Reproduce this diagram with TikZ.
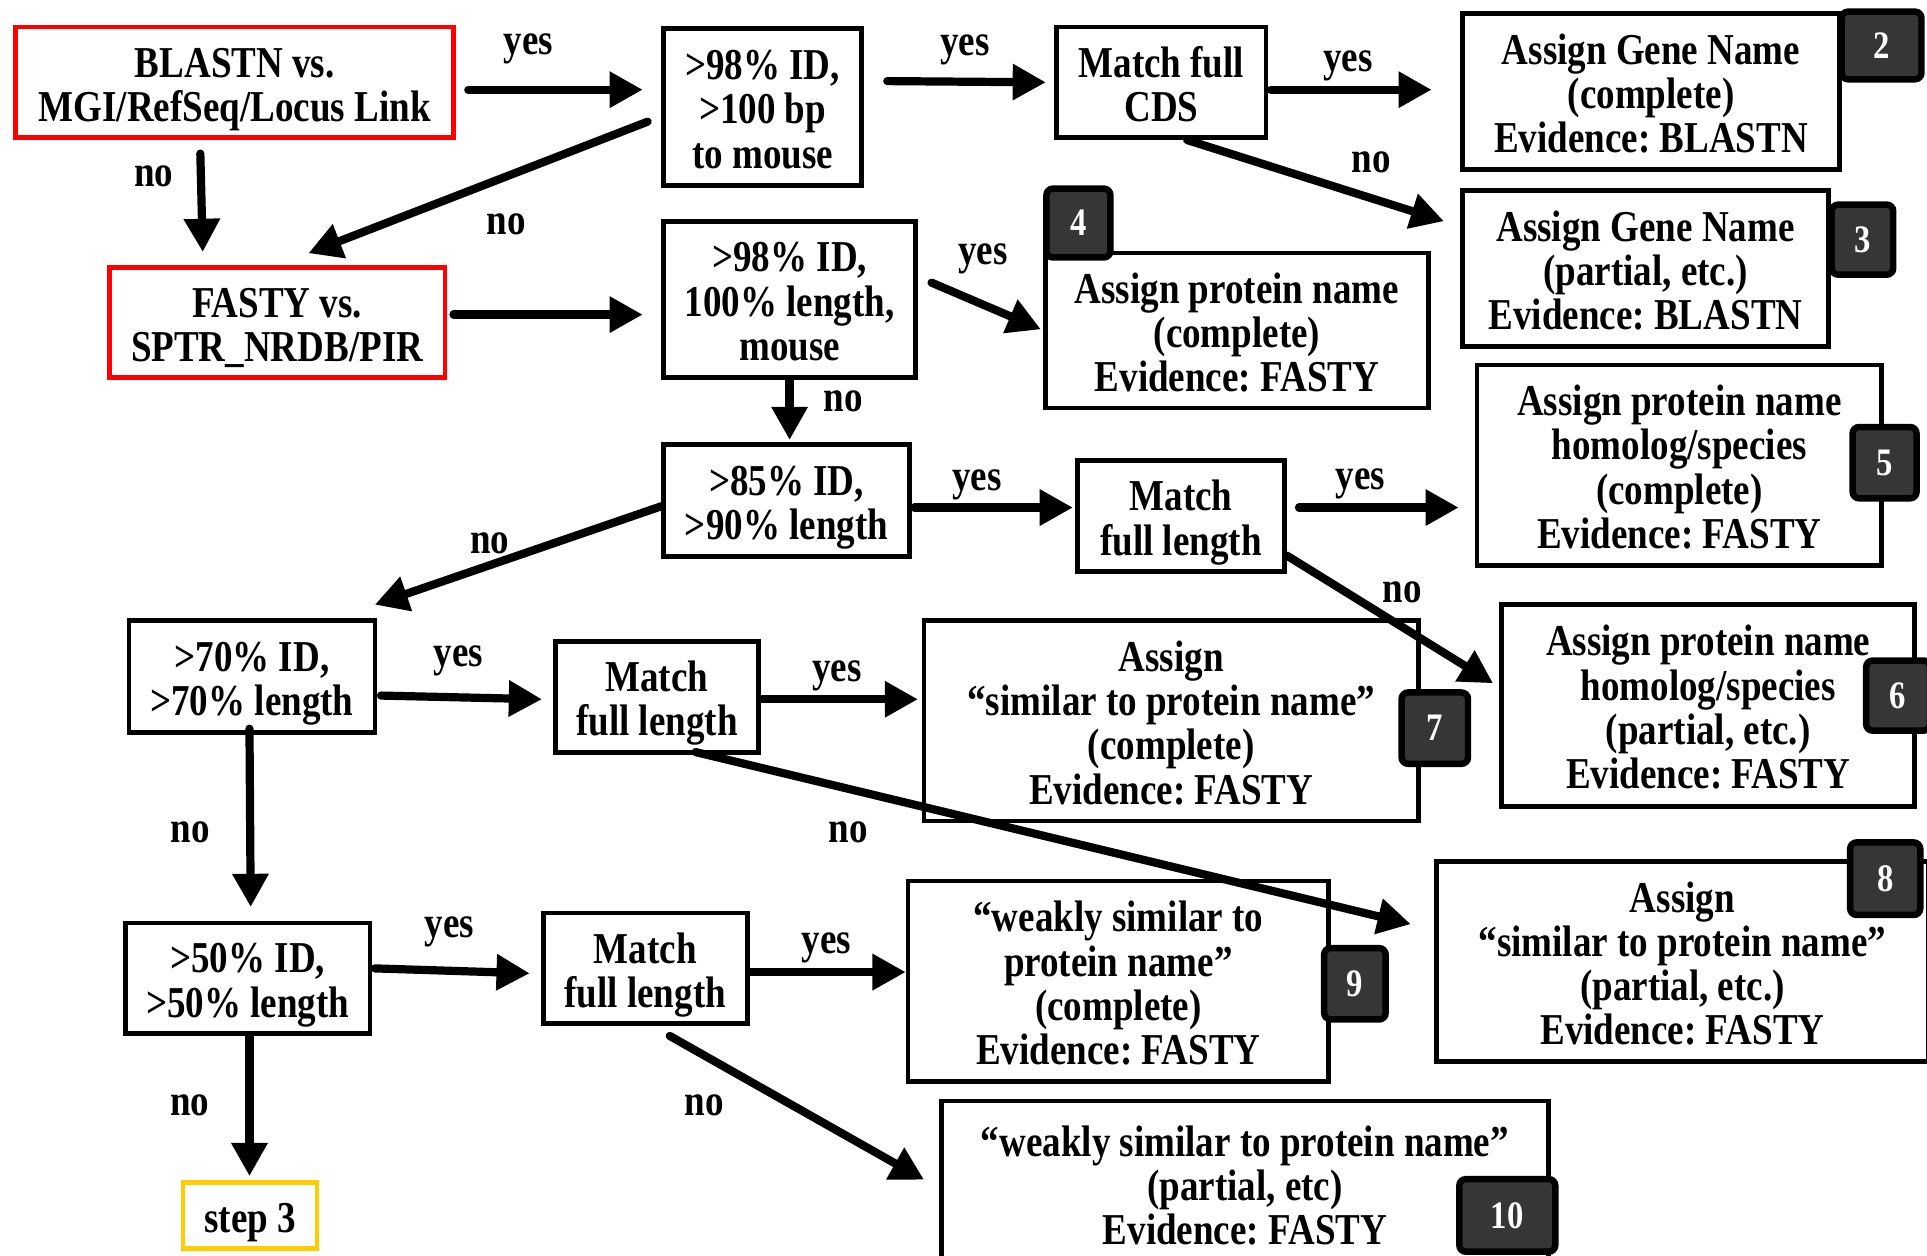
\documentclass[tikz,border=0pt]{standalone}
\usepackage{fontspec}
\setmainfont[FakeStretch=0.84]{Liberation Serif}
\usepackage{tikz}
\usetikzlibrary{arrows.meta}
\definecolor{badgegray}{HTML}{363636}
\definecolor{stepyellow}{HTML}{FFCC00}
\frenchspacing

\begin{document}
\begin{tikzpicture}[x=0.01cm, y=-0.01cm,
  every node/.style={font=\fontsize{10.2}{10.25}\selectfont\bfseries},
  >={Triangle[length=0.27cm, width=0.28cm]},
  sz/.style 2 args={minimum width=#1, minimum height=#2},
  box/.style={draw, line width=1.1pt, align=center, inner sep=0pt, text depth=2.2pt},
  one/.style={text height=10pt},
  two/.style={text height=20.25pt},
  three/.style={text height=30.5pt},
  four/.style={text height=40.75pt},
  redbox/.style={box, draw=red},
  stepbox/.style={box, draw=stepyellow},
  badge/.style={draw, fill=badgegray, line width=1.5pt, rounded corners=1.5pt,
    text=white, inner sep=0pt, font=\fontsize{9}{9}\selectfont\bfseries},
  arr/.style={->, line width=1.9pt, line cap=round},
  lbl/.style={inner sep=0pt, anchor=base}]

  \useasboundingbox (0,0) rectangle (1568,1022);
  \clip (0,0) rectangle (1568,1022);

  % BLASTN step (top)
  \node[redbox, two, sz={3.56cm}{0.90cm}] (blastn) at (191,67) {BLASTN vs.\\MGI/RefSeq/Locus Link};
  \node[box, three, sz={1.61cm}{1.28cm}] (idmouse) at (620.5,87) {>98\% ID,\\>100 bp\\to mouse};
  \node[box, two, sz={1.70cm}{0.90cm}] (cds) at (945,67) {Match full\\CDS};
  \node[box, three, sz={3.07cm}{1.27cm}] (gene2) at (1343.5,74.5) {Assign Gene Name\\(complete)\\Evidence: BLASTN};
  \node[box, three, sz={2.98cm}{1.27cm}] (gene3) at (1339,218.5) {Assign Gene Name\\(partial, etc.)\\Evidence: BLASTN};

  % FASTY step
  \node[redbox, two, sz={2.73cm}{0.89cm}] (fasty) at (225.5,262.5) {FASTY vs.\\SPTR\_NRDB/PIR};
  \node[box, three, sz={2.05cm}{1.27cm}] (idlen) at (642.5,243.5) {>98\% ID,\\100\% length,\\mouse};
  \node[box, three, sz={3.11cm}{1.26cm}] (prot4) at (1006.5,269) {Assign protein name\\(complete)\\Evidence: FASTY};
  \node[box, two, sz={2.00cm}{0.91cm}] (id85) at (640,407.5) {>85\% ID,\\>90\% length};
  \node[box, two, sz={1.68cm}{0.90cm}] (full3) at (961,420) {Match\\full length};
  \node[box, four, sz={3.29cm}{1.63cm}] (prot5) at (1366.5,378.5) {Assign protein name\\homolog/species\\(complete)\\Evidence: FASTY};
  \node[box, four, sz={3.36cm}{1.64cm}] (prot6) at (1390,574) {Assign protein name\\homolog/species\\(partial, etc.)\\Evidence: FASTY};
  \node[box, two, sz={2.00cm}{0.91cm}] (id70) at (205,550.5) {>70\% ID,\\>70\% length};
  \node[box, two, sz={1.65cm}{0.90cm}] (full4) at (534.5,567) {Match\\full length};
  \node[box, four, sz={4.02cm}{1.63cm}] (sim7) at (953,586.5) {Assign\\“similar to protein name”\\(complete)\\Evidence: FASTY};
  \node[box, four, sz={4.00cm}{1.63cm}] (sim8) at (1369,782.5) {Assign\\“similar to protein name”\\(partial, etc.)\\Evidence: FASTY};
  \node[box, two, sz={1.99cm}{0.90cm}] (id50) at (201.5,796) {>50\% ID,\\>50\% length};
  \node[box, two, sz={1.66cm}{0.90cm}] (full5) at (525,788) {Match\\full length};
  \node[box, four, sz={3.42cm}{1.63cm}] (weak9) at (910,798.5) {“weakly similar to\\protein name”\\(complete)\\Evidence: FASTY};
  \node[box, three, sz={4.94cm}{1.34cm}] (weak10) at (1013,963) {“weakly similar to protein name”\\(partial, etc)\\Evidence: FASTY};
  \node[stepbox, one, sz={1.09cm}{0.54cm}] (step3) at (203.5,989) {step 3};

  % numbered tags
  \node[badge, sz={0.65cm}{0.55cm}] (b2) at (1531,37) {2};
  \node[badge, sz={0.50cm}{0.57cm}] (b3) at (1515.5,195) {3};
  \node[badge, sz={0.52cm}{0.56cm}] (b4) at (877.5,181.5) {4};
  \node[badge, sz={0.52cm}{0.58cm}] (b5) at (1533.5,376.5) {5};
  \node[badge, sz={0.52cm}{0.57cm}] (b6) at (1544.5,566) {6};
  \node[badge, sz={0.54cm}{0.58cm}] (b7) at (1167.5,592.5) {7};
  \node[badge, sz={0.57cm}{0.59cm}] (b8) at (1534,715) {8};
  \node[badge, sz={0.50cm}{0.58cm}] (b9) at (1102.5,800.5) {9};
  \node[badge, sz={0.78cm}{0.59cm}] (b10) at (1226.5,989) {10};

  % connectors
  \draw[arr] ([shift={(10,6)}]blastn.east) -- ([shift={(-15,-14)}]idmouse.west);
  \draw[arr] ([shift={(-28,11)}]blastn.south) -- ([shift={(-60.5,-11)}]fasty.north);
  \draw[arr] ([shift={(-11,12)}]idmouse.west) -- ([shift={(25.5,-10)}]fasty.north);
  \draw[arr] ([shift={(5,-6.5)}]fasty.east) -- ([shift={(-15,12.5)}]idlen.west);
  \draw[arr] ([shift={(19,-21)}]idmouse.east) -- ([shift={(-7,0)}]cds.west);
  \draw[arr] ([shift={(2,6)}]cds.east) -- ([shift={(-23,-1.5)}]gene2.west);
  \draw[arr] ([shift={(21,0)}]cds.south) -- ([shift={(-13,-38.5)}]gene3.west);
  \draw[arr] ([shift={(11,-13.5)}]idlen.east) -- ([shift={(-2,-1)}]prot4.west);
  \draw[arr] (idlen.south) -- ([shift={(2.5,-2)}]id85.north);
  \draw[arr] ([shift={(2,5.5)}]id85.east) -- ([shift={(-2,-7)}]full3.west);
  \draw[arr] ([shift={(10,-7)}]full3.east) -- ([shift={(-13,34.5)}]prot5.west);
  \draw[arr] ([shift={(0,32)}]full3.east) -- ([shift={(-5,-18)}]prot6.west);
  \draw[arr] ([shift={(0,4.5)}]id85.west) -- ([shift={(-2,-11)}]id70.north east);
  \draw[arr] ([shift={(3,15.5)}]id70.east) -- ([shift={(-9,2)}]full4.west);
  \draw[arr] ([shift={(1,2)}]full4.east) -- ([shift={(-3,-17.5)}]sim7.west);
  \draw[arr] ([shift={(31.5,-2)}]full4.south) -- ([shift={(-19,-30.5)}]sim8.west);
  \draw[arr] ([shift={(-2,-5)}]id70.south) -- ([shift={(2.5,-11)}]id50.north);
  \draw[arr] ([shift={(2,-8)}]id50.east) -- ([shift={(-9,4)}]full5.west);
  \draw[arr] ([shift={(1,3)}]full5.east) -- ([shift={(0,-7.5)}]weak9.west);
  \draw[arr] ([shift={(20,8)}]full5.south) -- ([shift={(-12,-3)}]weak10.west);
  \draw[arr] ([shift={(1.5,0)}]id50.south) -- ([shift={(-0.5,-3)}]step3.north);

  % yes / no (placed on their baselines)
  \node[lbl] (ya) at (430,44.2) {yes};
  \node[lbl] (na) at (125,151.5) {no};
  \node[lbl] (nb) at (412,190.5) {no};
  \node[lbl] (yb) at (785,45.2) {yes};
  \node[lbl] (yc) at (1097,58.3) {yes};
  \node[lbl] (nc) at (1116,140.5) {no};
  \node[lbl] (yd) at (800,215.2) {yes};
  \node[lbl] (nd) at (686,334.5) {no};
  \node[lbl] (ye) at (795,399.2) {yes};
  \node[lbl] (yf) at (1107,398.2) {yes};
  \node[lbl] (ne) at (1141,490.5) {no};
  \node[lbl] (nf) at (398.5,450.5) {no};
  \node[lbl] (yg) at (373,542.2) {yes};
  \node[lbl] (yh) at (681,554.7) {yes};
  \node[lbl] (ng) at (155,685.5) {no};
  \node[lbl] (nh) at (690,685.5) {no};
  \node[lbl] (yi) at (365.5,763.2) {yes};
  \node[lbl] (yj) at (672.5,775.7) {yes};
  \node[lbl] (ni) at (154.5,907.5) {no};
  \node[lbl] (nj) at (573,907.5) {no};
\end{tikzpicture}
\end{document}
